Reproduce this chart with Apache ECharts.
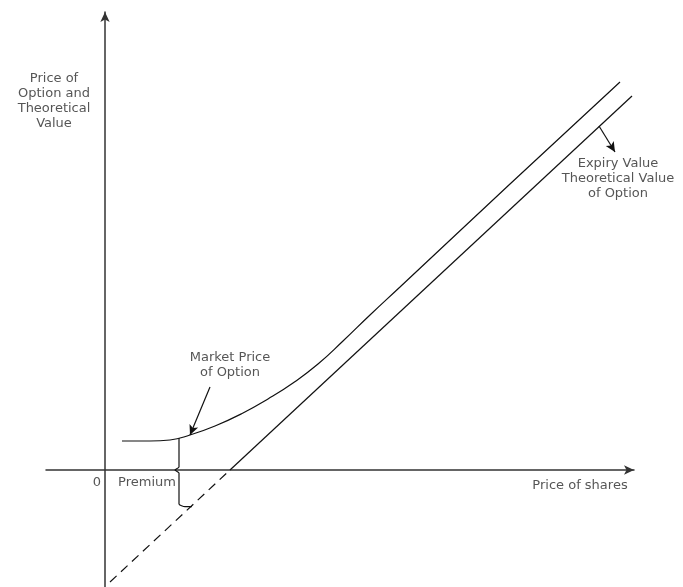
<!DOCTYPE html>
<html>
<head>
<meta charset="utf-8">
<script src="https://cdn.jsdelivr.net/npm/echarts@6/dist/echarts.min.js"></script>
<style>
html, body { margin: 0; padding: 0; background: #fff; }
#main { width: 683px; height: 587px; }
</style>
</head>
<body>
<div id="main"></div>
<script>
// expiry (intrinsic) value: dashed below zero, solid above
var expiryDashed = [[0.5, -11.2], [12.5, 0]];
var expirySolid = [[12.5, 0], [52.7, 37.4]];
// market price of option
var marketPrice = [[1.7, 2.9], [4.5, 2.9], [6.5, 3.0], [8.5, 3.5], [11.0, 4.4], [13.8, 5.7],
    [16.3, 7.1], [18.8, 8.7], [21.3, 10.6], [23.8, 12.9], [26.5, 15.5], [29.5, 18.3],
    [40.5, 28.6], [51.5, 38.8]];
// premium brace
var brace = [[7.4, 3.2], [7.4, 0.3], [7.0, 0], [7.4, -0.3], [7.4, -3.4], [8.0, -3.67], [8.7, -3.67]];
// pointer arrows [from, to]
var arrows = [
    [[10.5, 8.3], [8.5, 3.5]],
    [[49.4, 34.4], [51.0, 31.8]]
];
// text notes
var notes = [
    { name: 'Price of\nOption and\nTheoretical\nValue', value: [-5.1, 36.9] },
    { name: 'Market Price\nof Option', value: [12.5, 10.5] },
    { name: 'Expiry Value\nTheoretical Value\nof Option', value: [51.3, 29.1] },
    { name: 'Premium', value: [4.2, -1.3] },
    { name: '0', value: [-0.8, -1.3] },
    { name: 'Price of shares', value: [47.5, -1.6] }
];

var myChart = echarts.init(document.getElementById('main'));
var lineStyle = { color: '#111', width: 1.2 };

option = {
    animation: false,
    grid: { left: 46, right: 49, top: 12, bottom: 0 },
    xAxis: {
        type: 'value',
        min: -5.9,
        max: 52.9,
        axisLine: { onZero: true, symbol: ['none', 'arrow'], symbolSize: [7, 10], lineStyle: { color: '#333', width: 1.5 } },
        axisTick: { show: false },
        axisLabel: { show: false },
        splitLine: { show: false }
    },
    yAxis: {
        type: 'value',
        min: -11.7,
        max: 45.8,
        axisLine: { onZero: true, symbol: ['none', 'arrow'], symbolSize: [7, 10], lineStyle: { color: '#333', width: 1.5 } },
        axisTick: { show: false },
        axisLabel: { show: false },
        splitLine: { show: false }
    },
    series: [
        {
            name: 'dashed', type: 'line', data: expiryDashed, symbol: 'none',
            lineStyle: { color: '#111', width: 1.2, type: [9, 6] }
        },
        {
            name: 'expiry', type: 'line', data: expirySolid, symbol: 'none', lineStyle: lineStyle
        },
        {
            name: 'market', type: 'line', data: marketPrice, symbol: 'none',
            smooth: 0.5, lineStyle: lineStyle
        },
        {
            name: 'brace', type: 'line', data: brace, symbol: 'none', smooth: 0.2, lineStyle: lineStyle,
            markLine: {
                silent: true,
                symbol: ['none', 'arrow'],
                symbolSize: [7, 10],
                label: { show: false },
                lineStyle: { color: '#111', width: 1.2, type: 'solid' },
                data: arrows.map(function (a) {
                    return [{ coord: a[0] }, { coord: a[1] }];
                })
            }
        },
        {
            name: 'notes', type: 'scatter', data: notes, symbolSize: 0, clip: false,
            label: {
                show: true,
                position: 'inside',
                formatter: '{b}',
                color: '#2a2a2a',
                fontFamily: 'DejaVu Sans',
                fontSize: 13,
                lineHeight: 15,
                align: 'center'
            }
        }
    ]
};
myChart.setOption(option);
</script>
</body>
</html>
